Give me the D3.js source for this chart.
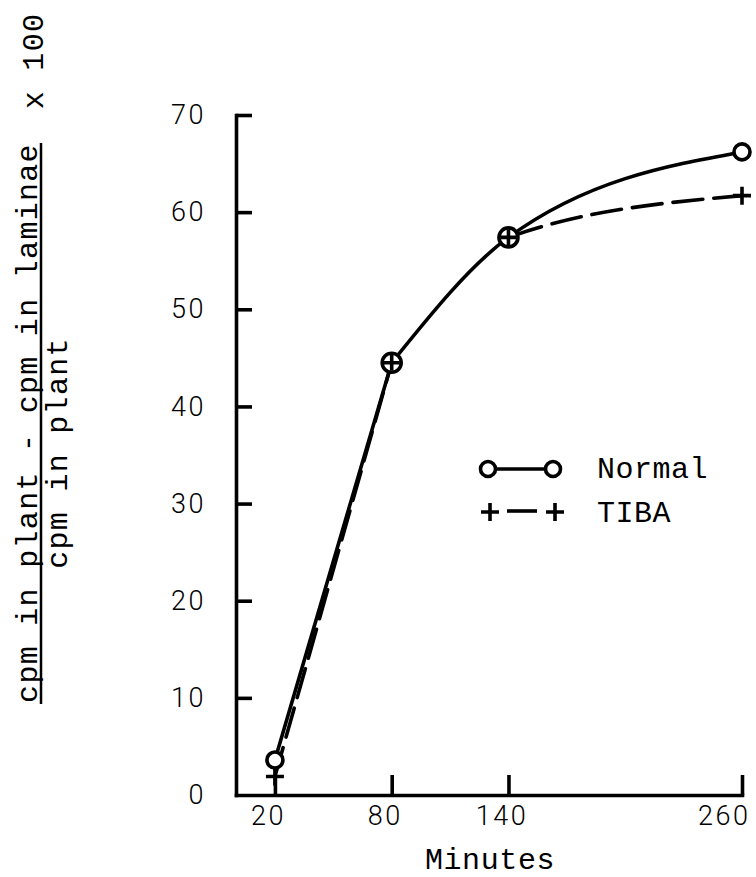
<!DOCTYPE html>
<html><head><meta charset="utf-8">
<script src="https://cdn.jsdelivr.net/npm/d3@7"></script>
<style>
body{margin:0;background:#fff}
.tw{font-family:'Courier New','Liberation Mono','DejaVu Sans Mono',monospace;fill:#000}
.num{font-family:Roboto,'DejaVu Sans',sans-serif;font-weight:300;fill:#000}
</style>
</head><body><svg id="chart" width="756" height="877"></svg>
<script>
// ---- data ----
const minutes = [20, 80, 140, 260];
const normalValues = [3.6, 44.5, 57.4, 66.2];
const tibaValues = [1.9, 44.5, 57.4, 61.7];
const xTicks = [20, 80, 140, 260];
const yTicks = [0, 10, 20, 30, 40, 50, 60, 70];
const seriesNames = ["Normal", "TIBA"];
const yLabelNumerator = "cpm in plant - cpm in laminae";
const yLabelDenominator = "cpm in plant";
const yLabelFactor = "x 100";
const xLabel = "Minutes";

// ---- chart ----
const svg = d3.select("#chart");
svg.append("rect").attr("width", 756).attr("height", 877).attr("fill", "#fff");

const x = d3.scaleLinear().domain([0, 260]).range([236, 742]);
const y = d3.scaleLinear().domain([0, 70]).range([795, 115]);

const lw = 3.6;

// axes
const yAxis = d3.axisLeft(y).tickValues(yTicks).tickSize(-16).tickSizeOuter(0).tickPadding(30).tickFormat(d3.format("d"));
const gy = svg.append("g").attr("transform", `translate(${x(0)},0)`).call(yAxis);
const xAxis = d3.axisBottom(x).tickValues(xTicks).tickSize(-20).tickSizeOuter(0).tickPadding(11).tickFormat(d3.format("d"));
const gx = svg.append("g").attr("transform", `translate(0,${y(0)})`).call(xAxis);

[gx, gy].forEach(g => {
  g.select(".domain").attr("stroke", "#000").attr("stroke-width", lw).attr("stroke-linecap", "square");
  g.selectAll(".tick line").attr("stroke", "#000").attr("stroke-width", lw);
  g.selectAll(".tick text").attr("class", "num").attr("font-size", 27).attr("letter-spacing", 2.5);
});
gy.selectAll(".tick").filter(d => d === 0).select("line").remove();
gx.selectAll(".tick text").attr("dx", -7);
gx.selectAll(".tick").filter(d => d === xTicks[xTicks.length - 1]).select("text")
  .attr("text-anchor", "end").attr("dx", 8);

// clip so the TIBA curve is only visible where it departs from Normal (after 140 min)
svg.append("clipPath").attr("id", "afterSplit").append("rect")
  .attr("x", x(minutes[2])).attr("y", 0).attr("width", 756).attr("height", 877);

// lines: straight first segment, smooth afterwards
const pts = vals => minutes.map((m, i) => [x(m), y(vals[i])]);
const linear = d3.line();
const smooth = d3.line().curve(d3.curveMonotoneX);

function drawSeries(vals, dash, clipSmooth) {
  const p = pts(vals);
  const g = svg.append("g").attr("fill", "none").attr("stroke", "#000")
    .attr("stroke-width", lw).attr("stroke-linecap", "round");
  if (dash) g.attr("stroke-dasharray", dash);
  g.append("path").attr("d", linear(p.slice(0, 2)));
  const s = g.append("path").attr("d", smooth(p.slice(1)));
  if (clipSmooth) s.attr("clip-path", "url(#afterSplit)").attr("stroke-dasharray", "0,14,30,11,30,11,30,11,30,11,30,11,30,11,30,11,30,11,30,11,30,11,30,11,30,11,30,11");
}
drawSeries(tibaValues, "30,11", true);
drawSeries(normalValues, null, false);

// markers
const plusPath = s => `M${-s},0H${s}M0,${-s}V${s}`;
svg.append("g").selectAll("circle").data(minutes).join("circle")
  .attr("cx", d => x(d)).attr("cy", (d, i) => y(normalValues[i]))
  .attr("r", (d, i) => (i === 1 || i === 2) ? 9.5 : 8)
  .attr("fill", "#fff").attr("stroke", "#000").attr("stroke-width", lw);
svg.append("g").selectAll("path").data(minutes).join("path")
  .attr("transform", (d, i) => `translate(${x(d)},${y(tibaValues[i])})`)
  .attr("d", (d, i) => (i === 1 || i === 2) ? plusPath(8) : plusPath(9))
  .attr("fill", "none").attr("stroke", "#000").attr("stroke-width", lw);

// legend
const lg = svg.append("g");
lg.append("line").attr("x1", 488).attr("x2", 553).attr("y1", 469).attr("y2", 469)
  .attr("stroke", "#000").attr("stroke-width", lw);
[488, 553].forEach(cx => lg.append("circle").attr("cx", cx).attr("cy", 469).attr("r", 7.5)
  .attr("fill", "#fff").attr("stroke", "#000").attr("stroke-width", lw));
lg.append("line").attr("x1", 507).attr("x2", 537).attr("y1", 511).attr("y2", 511)
  .attr("stroke", "#000").attr("stroke-width", lw);
[490, 555].forEach(cx => lg.append("path").attr("transform", `translate(${cx},512)`)
  .attr("d", plusPath(9)).attr("fill", "none").attr("stroke", "#000").attr("stroke-width", lw));
lg.append("text").attr("class", "tw").attr("x", 597).attr("y", 478).attr("font-size", 30)
  .attr("letter-spacing", 0.5).text(seriesNames[0]);
lg.append("text").attr("class", "tw").attr("x", 597).attr("y", 522).attr("font-size", 30)
  .attr("letter-spacing", 0.5).text(seriesNames[1]);

// x label
svg.append("text").attr("class", "tw").attr("x", 490).attr("y", 869).attr("text-anchor", "middle")
  .attr("font-size", 30).attr("letter-spacing", 0.6).text(xLabel);

// y label (fraction, rotated)
const rot = (tx, ty, str) => svg.append("text").attr("class", "tw")
  .attr("transform", `translate(${tx},${ty}) rotate(-90)`).attr("text-anchor", "middle")
  .attr("font-size", 30).attr("letter-spacing", 1.3).text(str);
rot(37, 423, yLabelNumerator);
rot(67, 453, yLabelDenominator);
rot(43, 61, yLabelFactor);
svg.append("line").attr("x1", 41).attr("x2", 41).attr("y1", 143).attr("y2", 704)
  .attr("stroke", "#000").attr("stroke-width", 2.5);
</script>
</body></html>
